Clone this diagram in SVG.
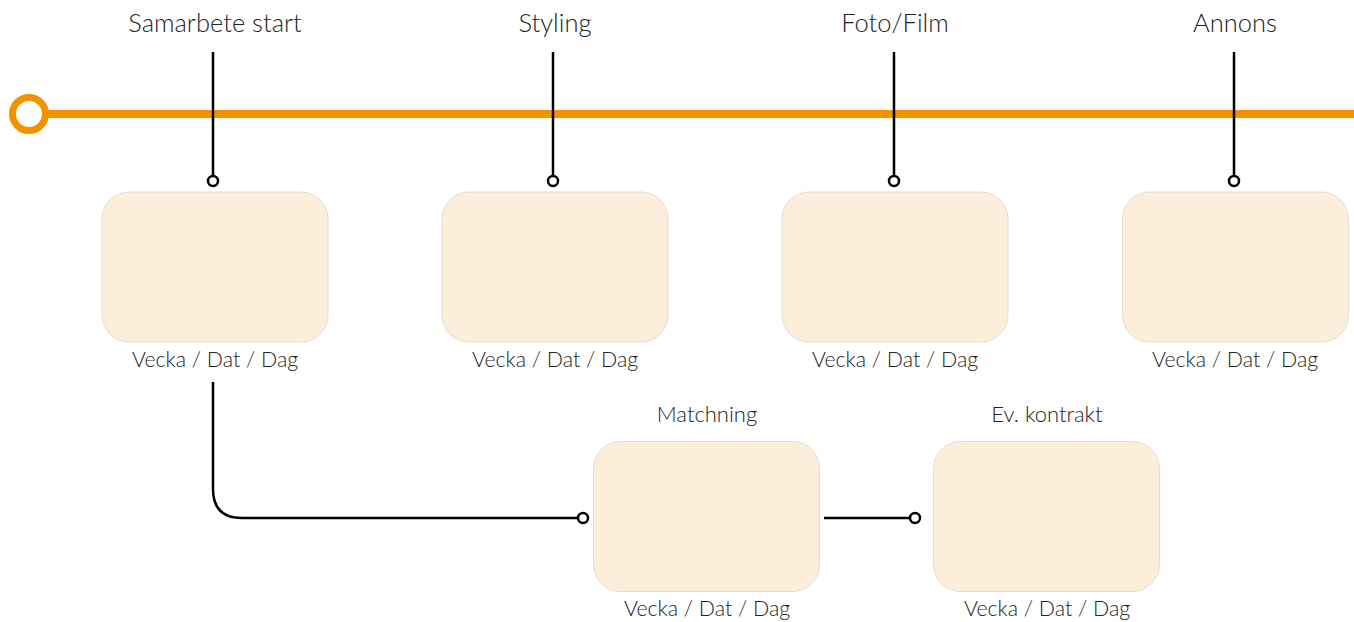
<svg xmlns="http://www.w3.org/2000/svg" width="1354" height="622" viewBox="0 0 1354 622">
<style>
.box{fill:#FCEEDB;stroke:#E3DDD5;stroke-width:1}
.t{font-family:Lato,"Open Sans","Liberation Sans",sans-serif;font-weight:300;fill:#222;text-anchor:middle}
.title{font-size:25.5px}
.lab{font-size:21.3px}
.sub{font-size:22px}
.ln{fill:none;stroke:#000;stroke-width:2.5}
.dot{fill:#fff;stroke:#000;stroke-width:2.5}
</style>
<rect width="1354" height="622" fill="#fff"/>
<g id="timeline">
<line x1="46" y1="114" x2="1354" y2="114" stroke="#F39200" stroke-width="8"/>
<circle cx="29" cy="114" r="16.5" fill="#fff" stroke="#F39200" stroke-width="7"/>
</g>
<g id="connectors">
<line class="ln" x1="213" y1="52" x2="213" y2="176"/>
<circle class="dot" cx="213" cy="181" r="5"/>
<line class="ln" x1="553" y1="52" x2="553" y2="176"/>
<circle class="dot" cx="553" cy="181" r="5"/>
<line class="ln" x1="894" y1="52" x2="894" y2="176"/>
<circle class="dot" cx="894" cy="181" r="5"/>
<line class="ln" x1="1234" y1="52" x2="1234" y2="176"/>
<circle class="dot" cx="1234" cy="181" r="5"/>
<path class="ln" d="M213 382 V489 Q213 518 242 518 H578"/>
<circle class="dot" cx="583" cy="518" r="5"/>
<line class="ln" x1="824" y1="518" x2="910" y2="518"/>
<circle class="dot" cx="915" cy="518" r="5"/>
</g>
<g id="node-samarbete">
<text class="t title" x="215" y="32">Samarbete start</text>
<rect class="box" x="102" y="192" width="226" height="150" rx="27"/>
<text class="t lab" x="215" y="367">Vecka / Dat / Dag</text>
</g>
<g id="node-styling">
<text class="t title" x="555" y="32">Styling</text>
<rect class="box" x="442" y="192" width="226" height="150" rx="27"/>
<text class="t lab" x="555" y="367">Vecka / Dat / Dag</text>
</g>
<g id="node-foto">
<text class="t title" x="895" y="32">Foto/Film</text>
<rect class="box" x="782" y="192" width="226" height="150" rx="27"/>
<text class="t lab" x="895" y="367">Vecka / Dat / Dag</text>
</g>
<g id="node-annons">
<text class="t title" x="1235" y="32">Annons</text>
<rect class="box" x="1122.5" y="192" width="226" height="150" rx="27"/>
<text class="t lab" x="1235" y="367">Vecka / Dat / Dag</text>
</g>
<g id="node-matchning">
<text class="t sub" x="707" y="422">Matchning</text>
<rect class="box" x="593.5" y="441.5" width="226" height="150" rx="27"/>
<text class="t lab" x="707" y="616">Vecka / Dat / Dag</text>
</g>
<g id="node-kontrakt">
<text class="t sub" x="1047" y="422">Ev. kontrakt</text>
<rect class="box" x="933.5" y="441.5" width="226" height="150" rx="27"/>
<text class="t lab" x="1047" y="616">Vecka / Dat / Dag</text>
</g>
</svg>
